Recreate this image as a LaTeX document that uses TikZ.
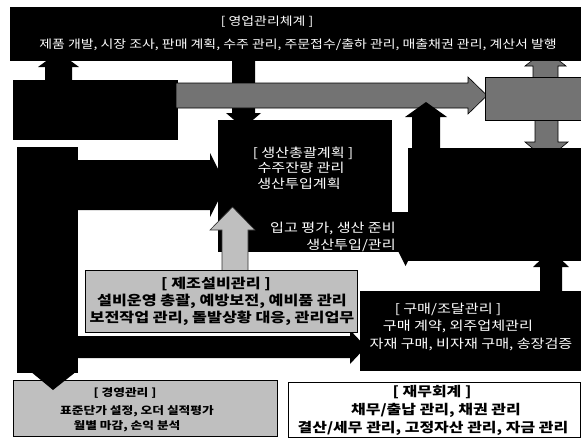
\documentclass[tikz,border=0pt]{standalone}
\usepackage{fontspec}
\newfontfamily\kr[FakeStretch=1.2]{Noto Sans CJK KR}
\begin{document}
\begin{tikzpicture}[x=1pt,y=-1pt,
  blk/.style={fill=black},
  gry/.style={fill=black!55},
  gryarrow/.style={fill=black!55, draw=black, line width=0.6pt},
  lgryarrow/.style={fill=black!25, draw=black!80, line width=0.6pt},
  boxblk/.style={fill=black, draw=none, anchor=north west, inner sep=0pt},
  boxgry/.style={fill=black!55, draw=black, line width=1pt, anchor=north west, inner sep=0pt},
  boxlgry/.style={fill=black!25, draw=black, line width=1.2pt, anchor=north west, inner sep=0pt},
  boxwht/.style={fill=white, draw=black, line width=0.8pt, anchor=north west, inner sep=0pt},
  wtxt/.style={text=white, inner sep=0pt, font=\kr\fontsize{12.6}{15}\selectfont},
  toptxt/.style={text=white, inner sep=0pt, font=\kr\fontsize{11.6}{14}\selectfont},
  btxt/.style={text=black, inner sep=0pt, font=\kr\bfseries\fontsize{13.5}{17}\selectfont},
  stxt/.style={text=black, inner sep=0pt, font=\kr\bfseries\fontsize{10.6}{14}\selectfont},
  ftxt/.style={text=black, inner sep=0pt, font=\kr\bfseries\fontsize{13.3}{17}\selectfont}
]
\useasboundingbox (0,0) rectangle (581,439);
\fill[white] (0,0) rectangle (581,439);

% ---- arrows lying under boxes ----
% left box -> top bar (up)
\fill[blk] (45,82) -- (45,67) -- (38,67) -- (58.5,52) -- (79,67) -- (72,67) -- (72,82) -- cycle;
% top bar -> centre box (down)
\fill[blk] (232,58) -- (255,58) -- (255,113) -- (261,113) -- (243.5,128) -- (226,113) -- (232,113) -- cycle;
% right grey box -> top bar (up)
\filldraw[gryarrow] (533,80) -- (533,66) -- (525,66) -- (545.5,50) -- (566,66) -- (558,66) -- (558,80) -- cycle;
% right grey box -> right block (down)
\filldraw[gryarrow] (535,118) -- (558,118) -- (558,142) -- (568,142) -- (546.5,160) -- (525,142) -- (535,142) -- cycle;
% left bar -> centre box (right)
\fill[blk] (70,160) -- (210,160) -- (210,153) -- (226,185) -- (210,217) -- (210,210) -- (70,210) -- cycle;
% left bar -> purchasing box (right)
\fill[blk] (70,336) -- (350,336) -- (350,330) -- (366,347) -- (350,364) -- (350,358) -- (70,358) -- cycle;
% purchasing box -> right block (up)
\fill[blk] (540,295) -- (540,267) -- (533,267) -- (551,250) -- (569,267) -- (562,267) -- (562,295) -- cycle;

% ---- boxes ----
\node[boxblk, minimum width=571pt, minimum height=54pt] (top) at (10,7) {};
\node[boxblk, minimum width=165pt, minimum height=60pt] (leftbox) at (13,80) {};
% grey band arrow
\filldraw[gryarrow] (176,83) -- (468,83) -- (468,77) -- (487,95.5) -- (468,114) -- (468,108) -- (176,108) -- cycle;
\node[boxgry, minimum width=97pt, minimum height=43pt] (greybox) at (485,77) {};
% black up arrow into the band
\fill[blk] (412,150) -- (412,117) -- (405,117) -- (426,102) -- (447,117) -- (440,117) -- (440,150) -- cycle;

\node[boxblk, minimum width=174pt, minimum height=132pt] (centre) at (218,120) {};
\node[boxblk, minimum width=173pt, minimum height=113pt] (rightblk) at (408,148) {};
\fill[blk] (390,212) rectangle (410,252);
\fill[blk] (398,251) -- (413,251) -- (405.5,266) -- cycle;

% left vertical bar
\node[boxblk, minimum width=61pt, minimum height=226pt] (leftbar) at (17,147) {};

% grey up arrow : equipment box -> centre box
\filldraw[lgryarrow] (222,274) -- (222,230) -- (210,230) -- (232.5,207) -- (255,230) -- (248,230) -- (248,274) -- cycle;

\node[boxlgry, minimum width=272pt, minimum height=62pt] (equip) at (85,270) {};
\node[boxblk, minimum width=221pt, minimum height=80pt] (purch) at (360,291) {};
\node[boxlgry, minimum width=264pt, minimum height=56pt] (mgmt) at (13,380) {};
\node[boxwht, minimum width=292pt, minimum height=55pt] (fin) at (288,382) {};

% left bar -> management box (down)
\fill[blk] (30,371) -- (77,371) -- (53,390) -- cycle;

% ---- texts ----
\node[toptxt] (t1) at (267,22) {[ 영업관리체계 ]};
\node[toptxt] (t2) at (298,45) {제품 개발, 시장 조사, 판매 계획, 수주 관리, 주문접수/출하 관리, 매출채권 관리, 계산서 발행};

\node[wtxt] (c1) at (303,153) {[ 생산총괄계획 ]};
\node[wtxt] (c2) at (301,168) {수주잔량 관리};
\node[wtxt] (c3) at (299,184) {생산투입계획};
\node[wtxt, anchor=east] (c4) at (396,228) {입고 평가, 생산 준비};
\node[wtxt, anchor=east] (c5) at (396,245) {생산투입/관리};

\node[btxt] (e1) at (216,284) {[ 제조설비관리 ]};
\node[btxt] (e2) at (222,301) {설비운영 총괄, 예방보전, 예비품 관리};
\node[btxt] (e3) at (222,318) {보전작업 관리, 돌발상황 대응, 관리업무};

\node[wtxt] (p1) at (448,309) {[ 구매/조달관리 ]};
\node[wtxt] (p2) at (458,326) {구매 계약, 외주업체관리};
\node[wtxt] (p3) at (471,344) {자재 구매, 비자재 구매, 송장검증};

\node[stxt] (m1) at (125,393) {[ 경영관리 ]};
\node[stxt] (m2) at (137,411) {표준단가 설정, 오더 실적평가};
\node[stxt] (m3) at (127,426) {월별 마감, 손익 분석};

\node[ftxt] (f1) at (432,392) {[ 재무회계 ]};
\node[ftxt] (f2) at (436,410) {채무/출납 관리, 채권 관리};
\node[ftxt] (f3) at (433,428) {결산/세무 관리, 고정자산 관리, 자금 관리};
\end{tikzpicture}
\end{document}
